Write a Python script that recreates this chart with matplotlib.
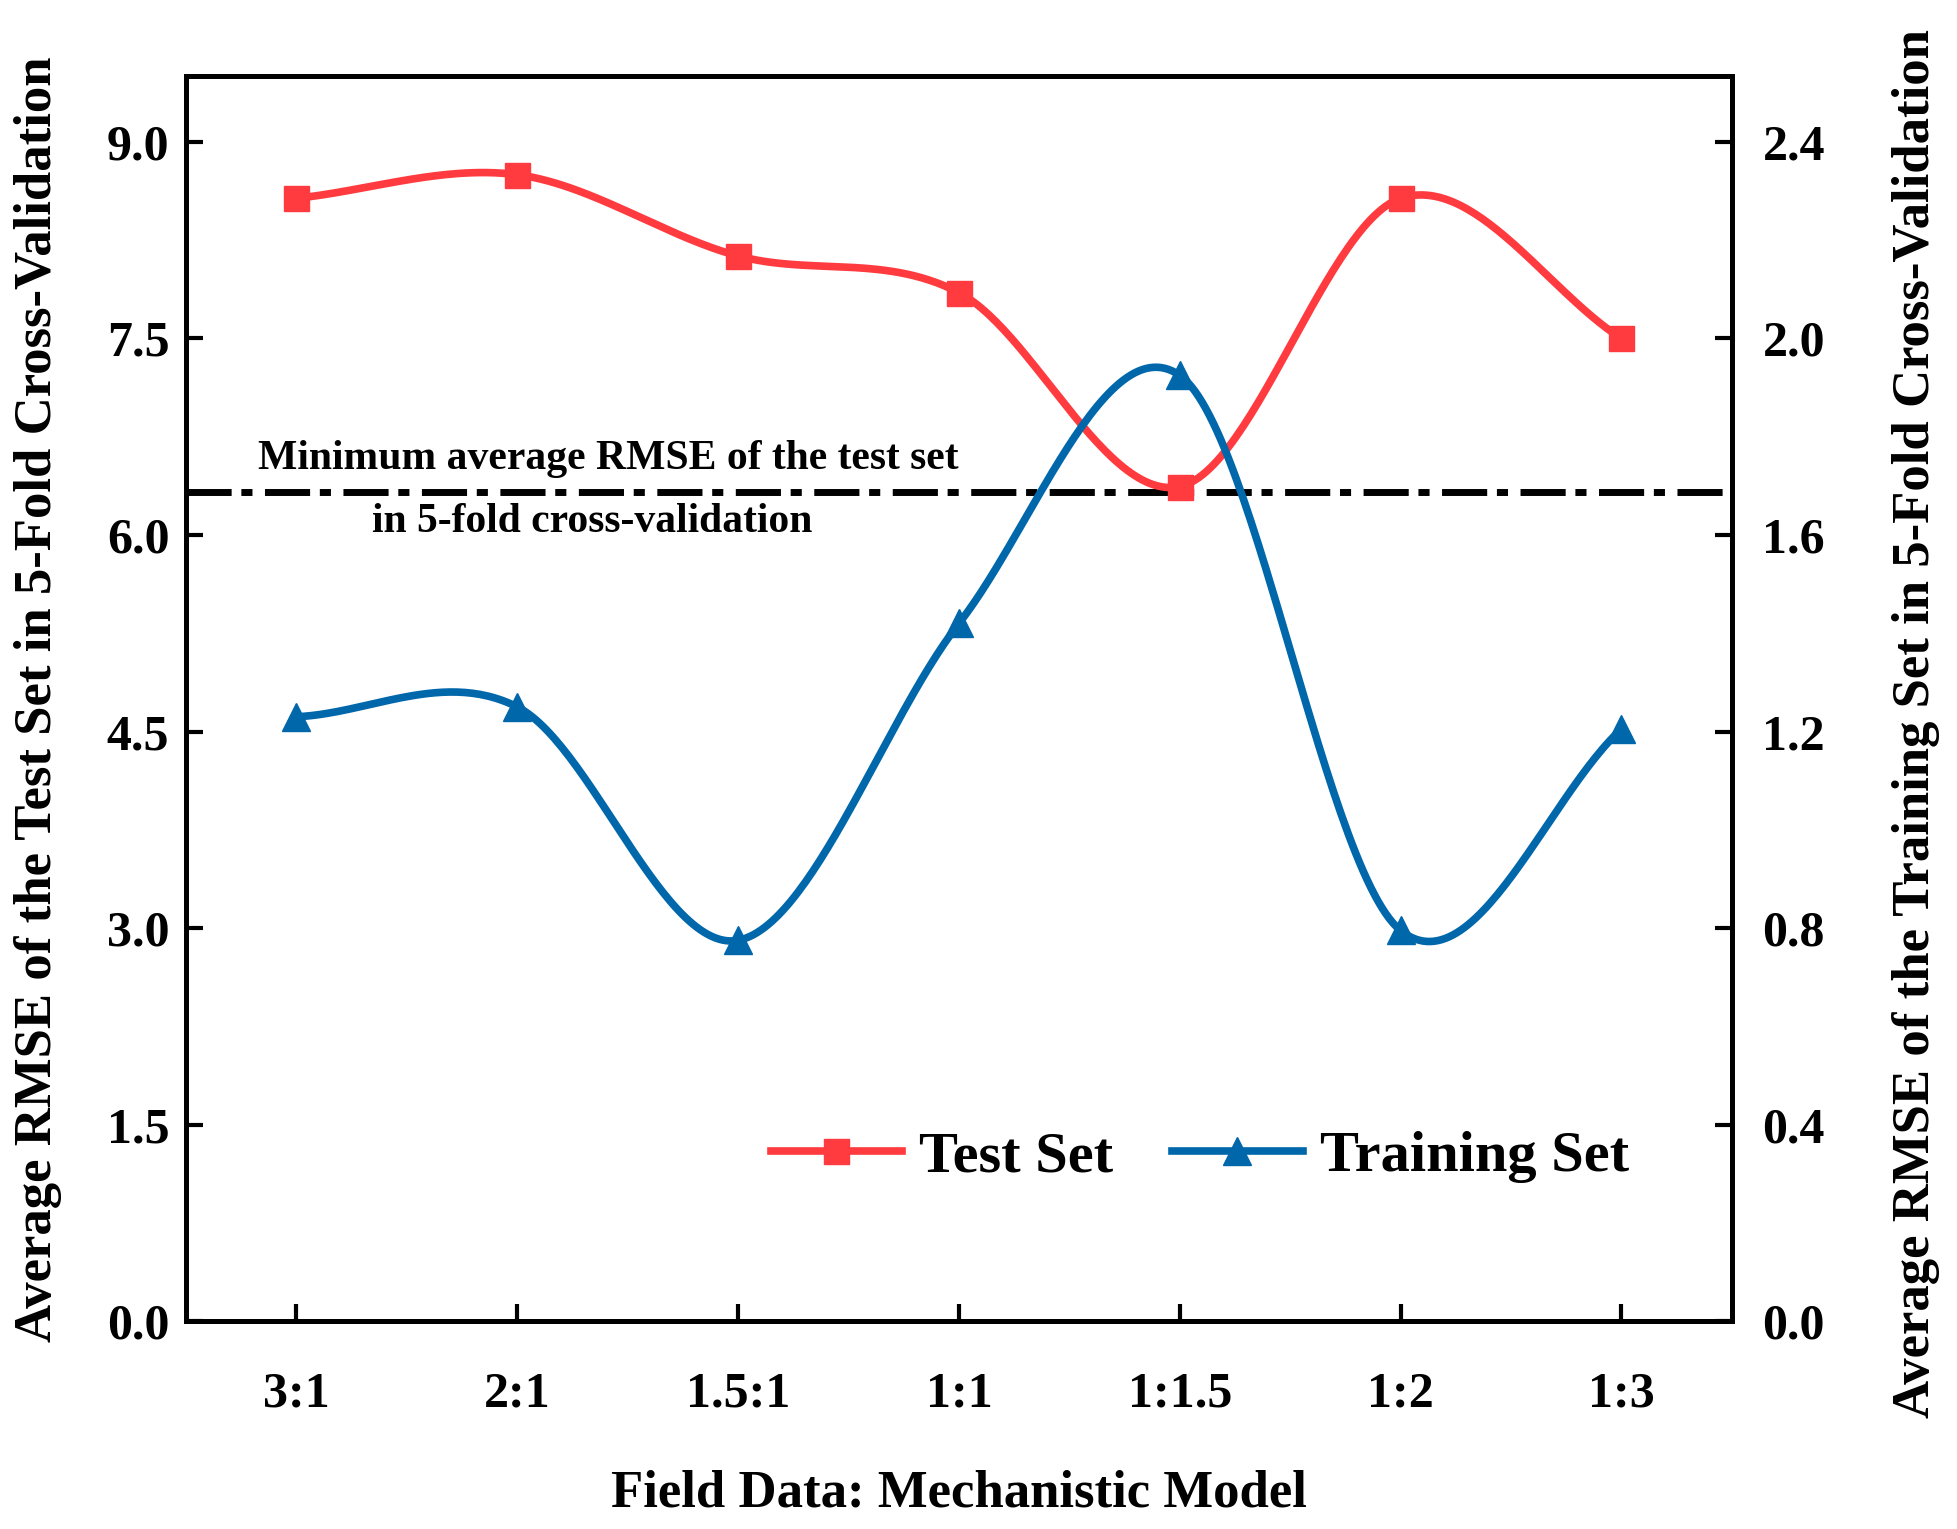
import numpy as np
import matplotlib
matplotlib.use("Agg")
from matplotlib import pyplot as plt
from matplotlib.lines import Line2D

ratios = ["3:1", "2:1", "1.5:1", "1:1", "1:1.5", "1:2", "1:3"]
test_rmse = [8.57, 8.75, 8.13, 7.85, 6.37, 8.57, 7.50]
train_rmse = [1.23, 1.25, 0.775, 1.42, 1.925, 0.795, 1.205]
min_line = 6.33

red = "#FF3B3F"
blue = "#0067AB"


def smooth(x, y, n=60):
    # catmull-rom style hermite curve through the points (only for the connecting line)
    x = np.asarray(x, float)
    y = np.asarray(y, float)
    m = np.gradient(y, x)
    xs_all, ys_all = [], []
    for i in range(len(x) - 1):
        h = x[i + 1] - x[i]
        t = np.linspace(0, 1, n)
        h00 = 2 * t**3 - 3 * t**2 + 1
        h10 = t**3 - 2 * t**2 + t
        h01 = -2 * t**3 + 3 * t**2
        h11 = t**3 - t**2
        xs_all.append(x[i] + t * h)
        ys_all.append(h00 * y[i] + h10 * h * m[i] + h01 * y[i + 1] + h11 * h * m[i + 1])
    return np.concatenate(xs_all), np.concatenate(ys_all)


plt.rcParams['font.family'] = ['Liberation Serif', 'DejaVu Serif']
plt.rcParams['font.weight'] = 'bold'

fig = plt.figure(figsize=(19.58, 15.29), dpi=100)
ax = fig.add_axes([0.095, 0.136, 0.7895, 0.814])
ax2 = ax.twinx()

xi = np.arange(len(ratios))

xs, ys = smooth(xi, test_rmse)
ax.plot(xs, ys, color=red, lw=5.5, zorder=3)
ax.plot(xi, test_rmse, 's', color=red, ms=18, zorder=4)

xs, ys = smooth(xi, train_rmse)
ax2.plot(xs, ys, color=blue, lw=5.5, zorder=3)
ax2.plot(xi, train_rmse, '^', color=blue, ms=20, zorder=4)

ax.axhline(min_line, color="black", lw=5, dashes=(6.5, 1.4, 1.6, 1.8), dash_capstyle='butt', zorder=2)
ax.text(1.41, 6.58, "Minimum average RMSE of the test set", ha="center", va="center", fontsize=30, fontweight="bold")
ax.text(1.34, 6.10, "in 5-fold cross-validation", ha="center", va="center", fontsize=30, fontweight="bold")

ax.set_xlim(-0.5, 6.5)
ax.set_ylim(0, 9.5)
ax2.set_ylim(0, 9.5 / 9 * 2.4)
ax.set_xticks(xi)
ax.set_xticklabels(ratios)
ax.set_yticks(np.arange(0, 9.1, 1.5))
ax.set_yticklabels([f"{v:.1f}" for v in np.arange(0, 9.1, 1.5)])
ax2.set_yticks(np.arange(0, 2.41, 0.4))
ax2.set_yticklabels([f"{v:.1f}" for v in np.arange(0, 2.41, 0.4)])

for a in (ax, ax2):
    for s in a.spines.values():
        s.set_linewidth(3.5)
    a.tick_params(direction="in", length=12, width=3, labelsize=36)
ax.tick_params(axis="x", pad=36)
ax.tick_params(axis="y", pad=12)
ax2.tick_params(axis="y", pad=22)

ax.set_xlabel("Field Data: Mechanistic Model", fontsize=38, fontweight="bold", labelpad=38)
ax.set_ylabel("Average RMSE of the Test Set in 5-Fold Cross-Validation", fontsize=38, fontweight="bold")
ax2.set_ylabel("Average RMSE of the Training Set in 5-Fold Cross-Validation", fontsize=38, fontweight="bold")
ax.yaxis.set_label_coords(-0.096, 0.5)
ax2.yaxis.set_label_coords(1.119, 0.48)
for lab in (ax.yaxis.label, ax2.yaxis.label):
    lab.set_ha("center")
    lab.set_va("center")

handles = [Line2D([], [], color=red, lw=5.5, marker='s', ms=18),
           Line2D([], [], color=blue, lw=5.5, marker='^', ms=20)]
ax.legend(handles, ["Test Set", "Training Set"], loc="center", bbox_to_anchor=(0.656, 0.132),
          ncol=2, frameon=False, fontsize=42, handlelength=2.25, columnspacing=1.0, handletextpad=0.3)

fig.savefig("out.png", dpi=100)
